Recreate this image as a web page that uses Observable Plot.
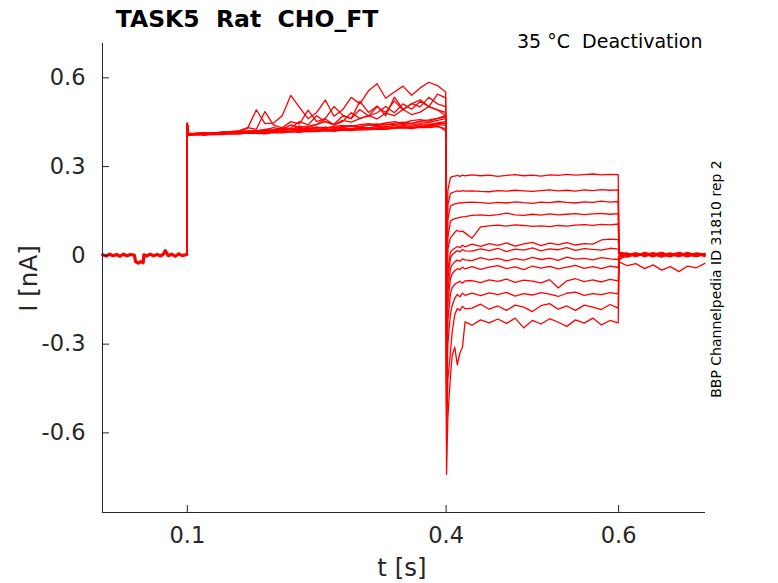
<!DOCTYPE html>
<html><head><meta charset="utf-8">
<script src="https://cdn.jsdelivr.net/npm/d3@7"></script>
<script src="https://cdn.jsdelivr.net/npm/@observablehq/plot@0.6"></script>
<style>
body{margin:0;background:#fff}
#chart{width:778px;height:583px}
svg text{white-space:pre}
</style>
</head><body><div id="chart"></div>
<script>
// ---------- text ----------
const titleText = "TASK5  Rat  CHO_FT";
const infoText = "35 °C  Deactivation";
const sideText = "BBP Channelpedia ID 31810 rep 2";
const xLabel = "t [s]";
const yLabel = "I [nA]";

// ---------- axes ----------
const xDomain = [0.0017, 0.7007];
const yDomain = [-0.869, 0.716];
const xTicks = [0.1, 0.4, 0.6];
const xTickLabels = ["0.1", "0.4", "0.6"];
const yTicks = [0.6, 0.3, 0, -0.3, -0.6];
const yTickLabels = ["0.6", "0.3", "0", "-0.3", "-0.6"];

// ---------- holding segment (all sweeps overlap) ----------
const preT = [0.002,0.006,0.010,0.014,0.018,0.022,0.026,0.030,0.034,0.0385,0.0402,0.043,0.046,0.0488,0.0497,0.053,0.057,0.061,0.065,0.069,0.072,0.0745,0.078,0.082,0.086,0.090,0.094,0.0995];
const preI = [.002,-.002,.004,-.001,.003,-.003,.004,-.001,.003,.001,-.022,-.026,-.021,-.025,.002,-.002,.004,-.001,.003,-.002,.003,.016,-.001,.004,-.003,.005,-.001,.003];

// ---------- activation step (0.1 - 0.4 s) ----------
const actT = [0.1,0.1015,0.11,0.12,0.13,0.14,0.15,0.16,0.17,0.18,0.19,0.20,0.21,0.22,0.23,0.24,0.25,0.26,0.27,0.28,0.29,0.30,0.31,0.32,0.33,0.34,0.35,0.36,0.37,0.38,0.39,0.3995];
const actI = [
  [.445,.408,.410,.412,.409,.413,.411,.414,.412,.416,.414,.418,.416,.419,.421,.418,.422,.424,.421,.425,.427,.424,.428,.430,.427,.432,.434,.431,.436,.438,.442,.440],
  [.448,.410,.412,.409,.415,.413,.418,.421,.430,.492,.445,.447,.472,.541,.500,.462,.483,.525,.470,.492,.534,.512,.556,.580,.531,.552,.572,.541,.566,.585,.574,.552],
  [.441,.405,.407,.406,.409,.408,.411,.410,.413,.412,.411,.415,.414,.417,.416,.419,.418,.421,.419,.423,.422,.425,.424,.427,.426,.429,.431,.428,.433,.432,.435,.428],
  [.445,.409,.411,.413,.410,.416,.418,.421,.432,.426,.486,.440,.431,.452,.444,.491,.452,.463,.503,.474,.462,.521,.483,.505,.472,.535,.494,.512,.526,.503,.545,.532],
  [.446,.412,.413,.415,.413,.417,.416,.419,.418,.421,.423,.420,.425,.424,.428,.426,.431,.429,.434,.432,.437,.435,.441,.438,.444,.442,.447,.445,.452,.449,.456,.462],
  [.442,.408,.410,.411,.414,.412,.415,.414,.418,.421,.419,.424,.431,.426,.437,.432,.442,.461,.441,.452,.482,.463,.471,.502,.483,.522,.491,.513,.502,.534,.512,.503],
  [.443,.407,.409,.411,.410,.412,.414,.413,.416,.415,.418,.417,.420,.419,.422,.425,.423,.427,.426,.430,.428,.433,.431,.436,.434,.439,.442,.440,.445,.443,.448,.452],
  [.440,.410,.409,.412,.410,.414,.416,.415,.419,.421,.426,.422,.429,.431,.452,.441,.472,.451,.443,.471,.462,.493,.471,.482,.503,.482,.512,.494,.521,.502,.492,.483],
  [.447,.410,.411,.413,.412,.415,.417,.415,.419,.418,.422,.421,.424,.427,.425,.429,.433,.430,.436,.439,.436,.442,.445,.441,.448,.452,.447,.455,.459,.454,.462,.468],
  [.443,.411,.411,.410,.414,.412,.416,.419,.421,.419,.425,.432,.426,.441,.432,.437,.443,.452,.441,.456,.450,.462,.472,.461,.481,.472,.493,.476,.484,.503,.492,.472],
  [.444,.409,.412,.410,.413,.411,.414,.416,.414,.417,.419,.416,.420,.418,.422,.421,.424,.423,.427,.425,.429,.428,.432,.430,.435,.433,.438,.436,.441,.439,.445,.447],
  [.442,.406,.408,.410,.408,.411,.413,.412,.415,.414,.417,.416,.419,.418,.421,.420,.423,.422,.425,.424,.427,.426,.429,.428,.431,.430,.433,.432,.436,.434,.438,.421],
  [.446,.411,.412,.414,.412,.416,.415,.418,.420,.418,.422,.424,.422,.426,.428,.426,.431,.433,.430,.436,.438,.435,.441,.444,.440,.447,.450,.446,.454,.458,.463,.472]
];

// ---------- tail currents (0.4 - 0.6 s) ----------
const tailT = [0.4005,0.402,0.405,0.407,0.41,0.413,0.416,0.419,0.422,0.43,0.44,0.45,0.46,0.47,0.48,0.49,0.50,0.51,0.52,0.53,0.54,0.55,0.56,0.57,0.58,0.59,0.5995];
const tailI = [
  [-.05,.22,.262,.266,.268,.270,.267,.271,.269,.272,.269,.271,.267,.270,.273,.269,.271,.268,.272,.270,.274,.271,.273,.275,.272,.274,.273],
  [-.10,.17,.208,.212,.215,.218,.216,.219,.217,.218,.216,.215,.219,.217,.220,.218,.216,.219,.221,.218,.220,.217,.221,.219,.222,.220,.221],
  [-.15,.12,.166,.170,.174,.176,.178,.177,.179,.180,.178,.176,.179,.177,.181,.178,.176,.180,.178,.182,.179,.177,.181,.179,.183,.180,.182],
  [-.20,.06,.115,.120,.124,.126,.128,.130,.131,.135,.137,.134,.138,.143,.137,.135,.139,.136,.140,.137,.139,.141,.138,.140,.142,.139,.141],
  [-.25,.02,.060,.066,.078,.085,.080,.082,.076,.058,.096,.100,.102,.099,.103,.101,.098,.100,.097,.101,.099,.102,.104,.101,.105,.103,.106],
  [-.30,-.05,.010,.018,.024,.030,.026,.034,.029,.038,.030,.040,.034,.042,.031,.039,.044,.033,.041,.036,.043,.035,.040,.038,.052,.055,.053],
  [-.35,-.08,-.010,.002,.010,.016,.012,.020,.015,.014,.022,.016,.024,.013,.021,.018,.025,.015,.022,.019,.026,.017,.023,.020,.018,.024,.021],
  [-.40,-.12,-.045,-.032,-.022,-.016,-.020,-.012,-.015,-.018,-.008,-.015,-.010,-.019,-.011,-.016,-.007,-.014,-.009,-.017,-.006,-.013,-.010,-.015,-.008,-.012,-.014],
  [-.45,-.16,-.080,-.062,-.052,-.045,-.048,-.040,-.046,-.038,-.047,-.040,-.035,-.045,-.039,-.048,-.036,-.043,-.037,-.046,-.040,-.034,-.044,-.038,-.045,-.036,-.041],
  [-.50,-.22,-.130,-.110,-.098,-.092,-.088,-.094,-.086,-.085,-.092,-.083,-.088,-.080,-.091,-.084,-.087,-.093,-.082,-.110,-.086,-.079,-.089,-.083,-.090,-.081,-.086],
  [-.55,-.30,-.200,-.170,-.145,-.132,-.140,-.128,-.135,-.128,-.136,-.127,-.133,-.125,-.138,-.129,-.134,-.126,-.131,-.139,-.128,-.124,-.135,-.129,-.133,-.126,-.130],
  [-.62,-.42,-.33,-.26,-.200,-.180,-.186,-.172,-.181,-.178,-.165,-.182,-.171,-.186,-.168,-.175,-.190,-.170,-.163,-.182,-.171,-.186,-.168,-.175,-.183,-.166,-.178],
  [-.74,-.55,-.41,-.34,-.31,-.37,-.33,-.31,-.225,-.236,-.218,-.228,-.215,-.230,-.212,-.245,-.220,-.232,-.214,-.226,-.240,-.218,-.229,-.212,-.235,-.220,-.228]
];

// ---------- return to holding (0.6 - 0.7 s) ----------
const postT = [0.6005,0.61,0.62,0.63,0.64,0.65,0.66,0.67,0.68,0.69,0.70];
const postI = [
  [.012,.004,-.002,.006,.001,.008,.000,.005,-.003,.004,.002],
  [.010,-.003,.005,.001,.007,-.002,.004,.009,.002,-.004,.003],
  [.008,.006,.000,.008,-.003,.005,.002,-.001,.007,.003,-.002],
  [.006,.001,.007,-.004,.004,.010,-.001,.006,.000,.008,.004],
  [.005,-.005,.003,.006,-.002,.003,.008,-.003,.005,.001,.007],
  [.004,.008,-.001,.002,.009,-.004,.005,.001,.010,-.002,.000],
  [.002,.002,.009,-.003,.005,.001,-.005,.007,.003,.006,-.004],
  [.000,-.006,.004,.007,-.001,.006,.003,-.002,.009,.000,.005],
  [-.004,.003,-.004,.005,.002,-.006,.007,.004,-.001,.005,.001],
  [-.008,.007,.002,-.002,.008,.002,-.003,.010,.001,-.003,.006],
  [-.012,-.002,.006,.003,-.005,.009,.001,-.004,.006,.002,-.001],
  [-.016,.005,-.003,.010,.003,-.001,.006,.002,-.005,.007,.003],
  [-.022,-.035,-.028,-.045,-.032,-.050,-.038,-.055,-.036,-.042,-.027]
];

// ---------- build tables ----------
const preRows = preT.map((t, i) => ({t, I: preI[i]}));
const rows = [];
for (let k = 0; k < actI.length; k++) {
  rows.push({sweep: k, t: preT[preT.length - 1], I: preI[preI.length - 1]});
  actT.forEach((t, i) => rows.push({sweep: k, t, I: actI[k][i]}));
  tailT.forEach((t, i) => rows.push({sweep: k, t, I: tailI[k][i]}));
  postT.forEach((t, i) => rows.push({sweep: k, t, I: postI[k][i]}));
}

const W = 778, H = 583, mL = 102, mR = 73, mT = 43, mB = 71;
const plotW = W - mL - mR, plotH = H - mT - mB;
const axisColor = "#262626";
const red = "#ff0000";

const chart = Plot.plot({
  width: W, height: H,
  marginLeft: mL, marginRight: mR, marginTop: mT, marginBottom: mB,
  style: {fontFamily: "DejaVu Sans", fontSize: "22px", color: axisColor, background: "#fff", overflow: "visible"},
  x: {domain: xDomain},
  y: {domain: yDomain},
  marks: [
    Plot.line(preRows, {x: "t", y: "I", stroke: red, strokeWidth: 3.2}),
    Plot.line(rows, {x: "t", y: "I", z: "sweep", stroke: red, strokeWidth: 1.3}),
    Plot.ruleX([xDomain[0]], {stroke: axisColor, strokeWidth: 1}),
    Plot.ruleY([yDomain[0]], {stroke: axisColor, strokeWidth: 1}),
    Plot.tickY(yTicks, {y: d => d, stroke: axisColor, insetRight: plotW - 7}),
    Plot.tickX(xTicks, {x: d => d, stroke: axisColor, insetTop: plotH - 7}),
    Plot.axisY({ticks: yTicks, tickSize: 0, tickPadding: 17, label: null, fontSize: 22.5,
      tickFormat: d => yTickLabels[yTicks.indexOf(d)]}),
    Plot.axisX({ticks: xTicks, tickSize: 0, tickPadding: 15, label: null, fontSize: 22.5,
      tickFormat: d => xTickLabels[xTicks.indexOf(d)]}),
    Plot.text([titleText], {frameAnchor: "top-left", dx: 144.5, dy: -16.3, textAnchor: "middle",
      lineAnchor: "bottom", fontWeight: "bold", fontSize: 23.5, fill: "#000"}),
    Plot.text([infoText], {frameAnchor: "top-right", dx: -3, dy: 4.3, textAnchor: "end",
      lineAnchor: "bottom", fontSize: 19, fill: "#000"}),
    Plot.text([sideText], {frameAnchor: "right", dx: 15.6, dy: 1, rotate: -90, textAnchor: "middle",
      lineAnchor: "bottom", fontSize: 14, fill: "#000"}),
    Plot.text([yLabel], {frameAnchor: "left", dx: -66, dy: 0.5, rotate: -90, textAnchor: "middle",
      lineAnchor: "bottom", fontSize: 24.5, fill: axisColor}),
    Plot.text([xLabel], {frameAnchor: "bottom", dx: -2, dy: 63, textAnchor: "middle",
      lineAnchor: "bottom", fontSize: 24.5, fill: axisColor})
  ]
});
document.getElementById("chart").appendChild(chart);
</script>
</body></html>
